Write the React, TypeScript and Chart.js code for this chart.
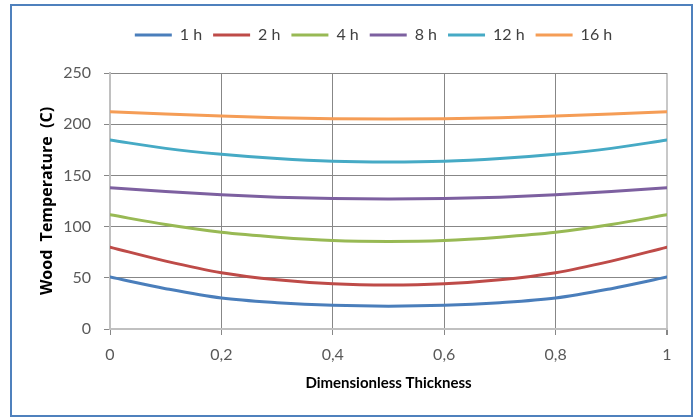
import React, { useEffect, useRef } from "react";
import { Chart, registerables } from "chart.js";

Chart.register(...registerables);

const thickness = [0, 0.1, 0.2, 0.3, 0.4, 0.5, 0.6, 0.7, 0.8, 0.9, 1];
const seriesLabels = ["1 h", "2 h", "4 h", "8 h", "12 h", "16 h"];
const t1h = [50.7, 39.4, 30.2, 25.7, 23.1, 22.3, 23.1, 25.7, 30.2, 39.4, 50.7];
const t2h = [79.9, 66.3, 55.0, 48.1, 44.2, 43.0, 44.2, 48.1, 55.0, 66.3, 79.9];
const t4h = [111.5, 102.0, 94.5, 89.7, 86.4, 85.5, 86.4, 89.7, 94.5, 102.0, 111.5];
const t8h = [138.0, 134.2, 131.0, 128.7, 127.4, 127.0, 127.4, 128.7, 131.0, 134.2, 138.0];
const t12h = [184.6, 176.4, 170.6, 166.4, 163.7, 163.0, 163.7, 166.4, 170.6, 176.4, 184.6];
const t16h = [212.2, 210.0, 208.0, 206.3, 205.4, 205.0, 205.4, 206.3, 208.0, 210.0, 212.2];
const seriesValues = [t1h, t2h, t4h, t8h, t12h, t16h];
const seriesColors = ["#4A7EBB", "#BE4B48", "#98B954", "#7D60A0", "#46AAC5", "#F59D56"];
const xTicks = [0, 0.2, 0.4, 0.6, 0.8, 1];
const yTicks = [0, 50, 100, 150, 200, 250];

const FONT = "Lato, 'Liberation Sans', sans-serif";
const TITLE_FONT_Y = "'Open Sans', Lato, sans-serif";

const legendShift = {
  id: "legendShift",
  afterLayout(chart: any) {
    const lg = chart.legend;
    if (!lg) return;
    const dx = 25;
    const dy = -20;
    lg.left += dx;
    lg.right += dx;
    lg.top += dy;
    lg.bottom += dy;
  },
};

export default function App() {
  const ref = useRef<HTMLCanvasElement | null>(null);

  useEffect(() => {
    if (!ref.current) return;
    const datasets = seriesLabels.map((label, i) => ({
      label,
      data: thickness.map((x, j) => ({ x, y: seriesValues[i][j] })),
      borderColor: seriesColors[i],
      backgroundColor: seriesColors[i],
      borderWidth: 3,
      borderCapStyle: "round" as const,
      pointRadius: 0,
      pointStyle: "line" as const,
      tension: 0.4,
      cubicInterpolationMode: "monotone" as const,
      fill: false,
    }));
    const chart = new Chart(ref.current, {
      type: "line",
      data: { datasets },
      plugins: [legendShift],
      options: {
        animation: false,
        responsive: false,
        devicePixelRatio: 1,
        layout: { padding: { left: 30, right: 27, top: 36, bottom: 10 } },
        plugins: {
          legend: {
            position: "top",
            labels: {
              usePointStyle: true,
              pointStyleWidth: 37,
              padding: 11,
              color: "#404040",
              font: { family: FONT, size: 16 },
            },
          },
          tooltip: { enabled: false },
        },
        scales: {
          x: {
            type: "linear",
            min: 0,
            max: 1,
            afterBuildTicks: (scale: any) => {
              scale.ticks = xTicks.map((v) => ({ value: v }));
            },
            afterFit: (scale: any) => {
              scale.height = 78;
            },
            ticks: {
              padding: 10,
              color: "#595959",
              font: { family: FONT, size: 16 },
              callback: (v: any) => String(Number(v).toFixed(1)).replace(/\.0$/, "").replace(".", ","),
            },
            grid: {
              color: (c: any) => (c.tick && c.tick.value === 1 ? "#C8C8C8" : "#878787"),
              lineWidth: (c: any) => (c.tick && c.tick.value === 1 ? 2 : 1),
              tickLength: 6,
              tickColor: "#878787",
            },
            border: { color: "#C0C0C0", width: 2 },
            title: {
              display: true,
              text: "Dimensionless Thickness",
              color: "#000000",
              font: { family: FONT, size: 15, weight: "bold" },
              padding: { top: 0, bottom: 15 },
            },
          },
          y: {
            type: "linear",
            min: 0,
            max: 250,
            afterBuildTicks: (scale: any) => {
              scale.ticks = yTicks.map((v) => ({ value: v }));
            },
            afterFit: (scale: any) => {
              scale.width = 80;
            },
            ticks: {
              padding: 13,
              color: "#595959",
              font: { family: FONT, size: 16 },
            },
            grid: {
              color: "#878787",
              lineWidth: 1,
              tickLength: 6,
              tickColor: "#878787",
            },
            border: { color: "#C0C0C0", width: 2 },
            title: {
              display: true,
              text: "Wood  Temperature  (C)",
              color: "#000000",
              font: { family: TITLE_FONT_Y, size: 16, weight: "bold" },
              padding: { top: 8, bottom: 0 },
            },
          },
        },
      },
    });
    return () => chart.destroy();
  }, []);

  return (
    <div style={{ position: "absolute", left: 0, top: 0, width: 694, height: 417, background: "#fff" }}>
      <div
        style={{
          position: "absolute",
          left: 10,
          top: 4,
          width: 683,
          height: 413,
          boxSizing: "border-box",
          border: "2px solid #4F81BD",
        }}
      />
      <canvas ref={ref} width={694} height={417} style={{ position: "absolute", left: 0, top: 0 }} />
    </div>
  );
}
